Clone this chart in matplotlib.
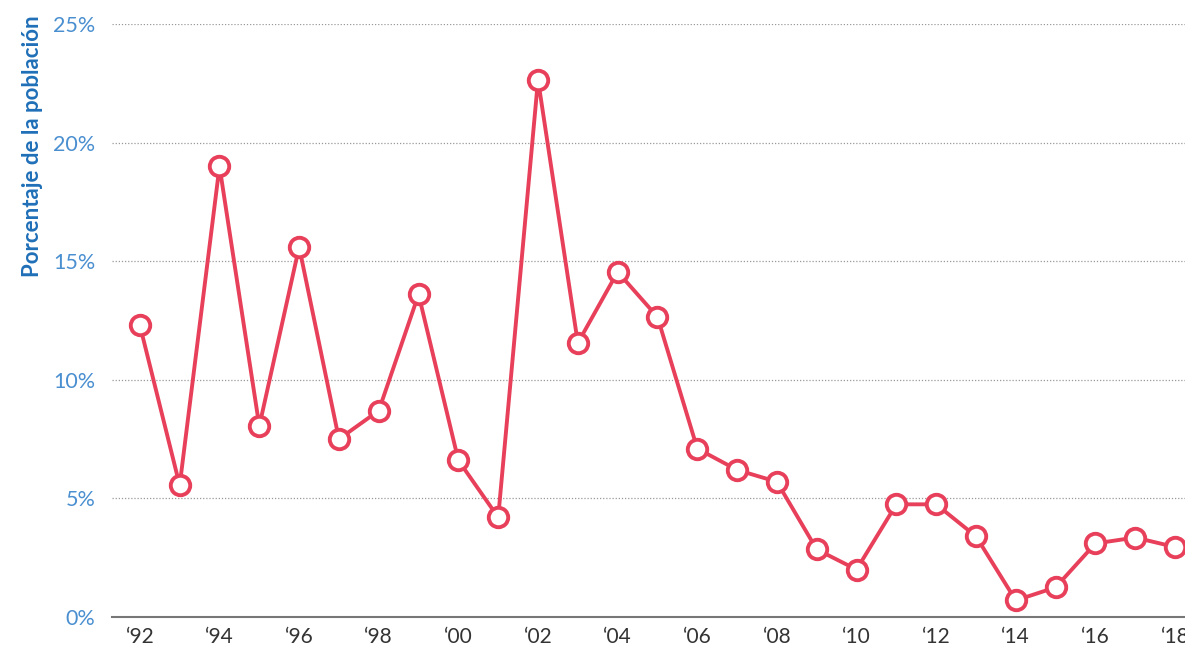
import matplotlib.pyplot as plt
import numpy as np

years = list(range(1992, 2019))
values = [12.3, 5.55, 19.0, 8.05, 15.6, 7.5, 8.7, 13.6, 6.6, 4.2,
          22.65, 11.55, 14.55, 12.65, 7.1, 6.2, 5.7, 2.85, 2.0, 4.75,
          4.75, 3.4, 0.7, 1.25, 3.1, 3.35, 2.95]
tick_years = list(range(1992, 2019, 2))
tick_labels = ['\u2018%02d' % (y % 100) for y in tick_years]
yticks = [0, 5, 10, 15, 20, 25]

plt.rcParams['font.family'] = ['Lato', 'DejaVu Sans']

fig = plt.figure(figsize=(11.85, 6.48), dpi=100)
ax = fig.add_axes([112 / 1185, 1 - 617 / 648, 1 - 112 / 1185, (617 - 24) / 648])

ax.plot(years, values, color='#e8405a', lw=2.8, marker='o', ms=14,
        mfc='white', mec='#e8405a', mew=2.8, zorder=3, clip_on=False)

ax.set_xlim(1991.3, 2018.25)
ax.set_ylim(0, 25)
ax.set_yticks(yticks)
ax.set_yticklabels(['%d%%' % v for v in yticks])
ax.set_xticks(tick_years)
ax.set_xticklabels(tick_labels)

ax.grid(axis='y', color='#999999', linestyle=(0, (1, 1.5)), lw=0.9)
ax.set_axisbelow(True)
for s in ['top', 'right', 'left']:
    ax.spines[s].set_visible(False)
ax.spines['bottom'].set_color('#777777')
ax.spines['bottom'].set_linewidth(1.5)

ax.tick_params(axis='y', length=0, pad=12, labelsize=15.5, labelcolor='#4a8fd0')
ax.tick_params(axis='x', length=0, pad=7, labelsize=15, labelcolor='#333333')

# axis title sits near the top, not centred
fig.text(33 / 1185, 1 - 146 / 648, 'Porcentaje de la población', rotation=90,
         ha='center', va='center', fontsize=16, fontweight='bold', color='#1f6fb8')

fig.savefig('out.png', dpi=100)
